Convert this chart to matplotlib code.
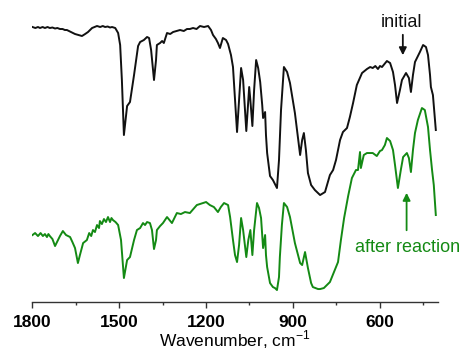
import matplotlib
matplotlib.use('Agg')
import matplotlib.pyplot as plt
from matplotlib.ticker import MultipleLocator

plt.rcParams['font.family'] = ['Liberation Sans', 'DejaVu Sans']
plt.rcParams['mathtext.fontset'] = 'custom'
plt.rcParams['mathtext.rm'] = 'Liberation Sans'

# IR spectra, transmittance in arbitrary (offset) units
wn_initial = [1800, 1790, 1781, 1774, 1765, 1757, 1748, 1740, 1731, 1722, 1714, 1705, 1696,
              1688, 1681, 1667, 1653, 1641, 1629, 1618, 1608, 1594, 1577, 1566, 1557, 1549,
              1540, 1532, 1525, 1514, 1504, 1497, 1491, 1484, 1473, 1463, 1449, 1435, 1428,
              1415, 1404, 1397, 1390, 1380, 1373, 1370, 1359, 1352, 1346, 1335, 1324, 1314,
              1302, 1290, 1277, 1266, 1256, 1245, 1233, 1221, 1207, 1193, 1183, 1176, 1166,
              1159, 1152, 1142, 1131, 1124, 1114, 1107, 1100, 1093, 1086, 1079, 1072, 1061,
              1054, 1051, 1047, 1040, 1034, 1027, 1020, 1013, 1006, 1003, 996, 993, 989, 979,
              969, 962, 955, 948, 941, 931, 920, 910, 893, 875, 868, 862, 855, 848, 837, 824,
              806, 789, 772, 761, 751, 737, 727, 713, 703, 692, 679, 661, 644, 633, 624, 615,
              606, 599, 592, 575, 564, 554, 547, 540, 530, 523, 509, 499, 492, 485, 478, 461,
              450, 440, 433, 426, 423, 416, 406]
t_initial = [275, 274, 275, 274, 275, 274, 275, 274, 274.5, 273.5, 274, 273, 273,
             272, 272, 270, 268, 267, 266, 268, 270, 274, 276, 275, 276, 275,
             275.5, 274.5, 275, 274, 269, 257, 222, 167, 196, 200, 227, 256, 260,
             262, 265, 264, 252, 222, 242, 257, 259, 261, 259, 269, 268, 270,
             271, 272, 271, 273, 273, 274, 273, 276, 275, 276, 272, 267, 263,
             259, 254, 264, 262, 258, 247, 235, 202, 170, 202, 234, 222, 171,
             202, 215, 202, 176, 212, 242, 234, 220, 197, 184, 190, 167, 149, 126,
             122, 118, 114, 142, 192, 235, 230, 219, 189, 147, 162, 169, 152, 129, 117, 112,
             107, 110, 127, 132, 142, 162, 170, 174, 185, 199, 217, 229, 233, 235, 234, 236,
             233, 236, 235, 241, 239, 230, 217, 199, 212, 222, 229, 224, 210, 227, 240, 250,
             257, 255, 247, 227, 215, 207, 172]

wn_after = [1800, 1791, 1781, 1772, 1764, 1757, 1750, 1745, 1740, 1731, 1722, 1712, 1705,
            1695, 1684, 1670, 1662, 1653, 1643, 1636, 1625, 1612, 1604, 1597, 1591, 1584,
            1577, 1570, 1567, 1560, 1553, 1546, 1539, 1532, 1527, 1522, 1513, 1504, 1494,
            1484, 1473, 1463, 1449, 1439, 1428, 1418, 1411, 1404, 1394, 1387, 1380, 1373,
            1370, 1359, 1349, 1335, 1318, 1301, 1287, 1273, 1256, 1232, 1211, 1200, 1187,
            1173, 1159, 1149, 1138, 1124, 1117, 1107, 1100, 1093, 1086, 1079, 1072, 1061,
            1054, 1047, 1040, 1034, 1024, 1017, 1010, 1003, 996, 993, 989, 979, 969, 962,
            955, 948, 945, 938, 931, 920, 910, 893, 875, 868, 858, 848, 837, 831, 813, 806,
            793, 772, 755, 744, 734, 723, 709, 696, 682, 675, 668, 665, 655, 644, 624, 610,
            599, 592, 582, 575, 564, 554, 547, 537, 527, 519, 506, 499, 492, 485, 478, 468,
            454, 444, 433, 426, 419, 413, 406]
t_after = [67, 69, 66, 69, 66, 68, 65, 68, 66, 63, 56, 62, 66,
           71, 67, 65, 60, 54, 39, 47, 59, 62, 69, 66, 72, 70,
           77, 74, 81, 78, 83, 80, 85, 80, 84, 82, 80, 77, 62,
           24, 42, 45, 62, 72, 74, 79, 77, 80, 79, 72, 53, 62,
           72, 76, 79, 85, 79, 89, 88, 90, 89, 97, 99, 100, 97,
           95, 90, 95, 99, 97, 85, 62, 47, 40, 57, 84, 72, 45,
           62, 72, 47, 72, 99, 94, 84, 54, 67, 47, 35, 19, 15, 14,
           12, 25, 45, 77, 99, 95, 85, 59, 39, 37, 50, 34, 19, 15, 13, 13,
           14, 20, 32, 40, 62, 84, 106, 124, 132, 132, 150, 134, 147, 149, 149, 146,
           151, 152, 157, 164, 161, 152, 137, 114, 132, 145, 149, 144, 130, 152, 169, 182,
           194, 192, 175, 152, 132, 117, 87]

black = '#111111'
green = '#148a14'

fig = plt.figure(figsize=(4.64, 3.5), dpi=100)
ax = fig.add_axes([0.070, 0.137, 0.873, 0.863])

ax.plot(wn_initial, t_initial, color=black, lw=1.4)
ax.plot(wn_after, t_after, color=green, lw=1.4)

ax.annotate('', xy=(520, 244), xytext=(520, 270),
            arrowprops=dict(arrowstyle='-|>', color=black, lw=1.3, mutation_scale=11))
ax.text(523, 280, 'initial', ha='center', va='center', fontsize=13, color=black)

ax.annotate('', xy=(507, 112), xytext=(507, 69),
            arrowprops=dict(arrowstyle='-|>', color=green, lw=1.3, mutation_scale=11))
ax.text(502, 55, 'after reaction', ha='center', va='center', fontsize=13, color=green)

ax.set_xlim(1800, 400)
ax.set_ylim(0, 302)
for s in ['top', 'left', 'right']:
    ax.spines[s].set_visible(False)
ax.spines['bottom'].set_color('#333333')
ax.spines['bottom'].set_linewidth(1.0)
ax.set_yticks([])
ax.xaxis.set_major_locator(MultipleLocator(300))
ax.xaxis.set_minor_locator(MultipleLocator(150))
ax.tick_params(axis='x', which='major', length=4, width=1, color='#333333', pad=5)
ax.tick_params(axis='x', which='minor', length=2.5, width=1, color='#333333')
for lbl in ax.get_xticklabels():
    lbl.set_fontweight('bold')
    lbl.set_fontsize(12.5)
ax.set_xlabel('Wavenumber, cm$^{-1}$', fontsize=12.5, labelpad=-1)

fig.savefig('out.png', dpi=100)
